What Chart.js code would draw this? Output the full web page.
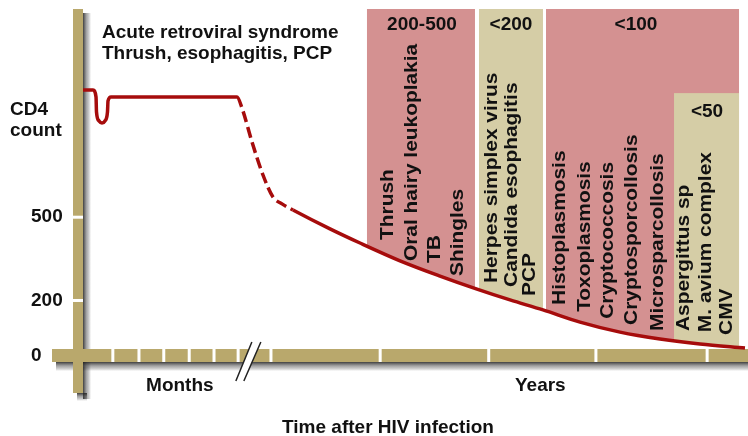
<!DOCTYPE html>
<html>
<head>
<meta charset="utf-8">
<script src="https://cdn.jsdelivr.net/npm/chart.js@4.4.1/dist/chart.umd.min.js"></script>
<style>
  html, body { margin: 0; padding: 0; background: #fff; }
  #wrap { width: 748px; height: 436px; }
</style>
</head>
<body>
<div id="wrap"><canvas id="cd4Chart" width="748" height="436"></canvas></div>
<script>
// CD4 curve: position along the time axis (0-100) and count
const timeline = [0.75, 2.24, 2.69, 2.76, 3.13, 3.58, 4.03, 4.40, 4.48, 4.93, 23.73,
  24.48, 25.97, 27.61, 29.10, 30.45, 32.09,
  37.61, 42.09, 48.06, 54.03, 59.55, 64.48, 69.40, 74.93, 80.90, 86.87, 92.84, 99.55];
const cd4Count = [958, 958, 933, 879, 847, 839, 847, 879, 919, 933, 933,
  893, 771, 652, 573, 548, 526,
  458, 407, 343, 288, 241, 202, 166, 122, 86, 61, 43, 29];
// part of the curve that is only projected (drawn dashed)
const projectedFrom = 23.73;
const projectedTo = 32.09;

// axis ticks
const yTickValues = [0, 200, 500];
const xTickValues = [15.2, 69.0];
const xTickLabels = ['Months', 'Years'];
const monthTicks = [5.2, 9.1, 12.8, 16.6, 20.3, 23.9, 28.8];
const yearTicks = [45.1, 61.3, 77.3, 93.9];
const axisBreakAt = 25.5;

// CD4 ranges and the infections seen in each
const bandLabels = ['200-500', '<200', '<100', '<50'];
const bandFrom = [43.13, 59.85, 69.85, 88.96];
const bandTo = [59.25, 69.40, 98.66, 98.66];
const bandTop = [1250, 1250, 1250, 947];
const bandLabelX = [51.34, 64.63, 83.28, 93.88];
const bandLabelY = [1192, 1192, 1192, 879];

const infections = ['Thrush', 'Oral hairy leukoplakia', 'TB', 'Shingles',
  'Herpes simplex virus', 'Candida esophagitis', 'PCP',
  'Histoplasmosis', 'Toxoplasmosis', 'Cryptococcosis', 'Cryptosporcollosis', 'Microsparcollosis',
  'Aspergittus sp', 'M. avium complex', 'CMV'];
const infectionX = [46.27, 49.85, 53.28, 56.72, 61.79, 64.78, 67.46,
  71.94, 75.67, 79.10, 82.69, 86.57, 90.45, 93.73, 96.87];
const infectionY = [418, 342, 335, 288, 263, 249, 216,
  184, 159, 134, 112, 90, 90, 86, 76];

const earlyNotes = ['Acute retroviral syndrome', 'Thrush, esophagitis, PCP'];

const PINK = '#d49191';
const TAN = '#d5cda6';
const AXIS_TAN = '#b9a86c';
const CURVE_RED = '#a60c0c';
const INK = '#111111';
const FONT = "bold 19px 'Liberation Sans', Arial, sans-serif";

// soft shadow strip fading away from an edge
function shadowStrip(ctx, x, y, w, h, vertical) {
  const g = vertical
    ? ctx.createLinearGradient(x, 0, x + w, 0)
    : ctx.createLinearGradient(0, y, 0, y + h);
  g.addColorStop(0, 'rgba(30,30,30,0.85)');
  g.addColorStop(0.45, 'rgba(60,60,60,0.45)');
  g.addColorStop(1, 'rgba(0,0,0,0)');
  ctx.fillStyle = g;
  ctx.fillRect(x, y, w, h);
}

const decorations = {
  id: 'decorations',
  beforeDatasetsDraw(chart) {
    const { ctx, chartArea, scales: { x, y } } = chart;
    const pts = chart.getDatasetMeta(0).data;

    // shaded ranges, only above the curve
    ctx.save();
    ctx.beginPath();
    ctx.moveTo(pts[0].x, pts[0].y);
    for (let i = 1; i < pts.length; i++) {
      const a = pts[i - 1], b = pts[i];
      ctx.bezierCurveTo(a.cp2x, a.cp2y, b.cp1x, b.cp1y, b.x, b.y);
    }
    ctx.lineTo(chartArea.right, pts[pts.length - 1].y);
    ctx.lineTo(chartArea.right, chartArea.top);
    ctx.lineTo(pts[0].x, chartArea.top);
    ctx.closePath();
    ctx.clip();
    bandLabels.forEach((_, i) => {
      const left = x.getPixelForValue(bandFrom[i]);
      const right = x.getPixelForValue(bandTo[i]);
      const top = y.getPixelForValue(bandTop[i]);
      ctx.fillStyle = i % 2 ? TAN : PINK;
      ctx.fillRect(left, top, right - left, chartArea.bottom - top);
    });
    ctx.restore();

    // axis bars with drop shadow
    const x0 = x.getPixelForValue(0);
    const y0 = y.getPixelForValue(0);
    const vBottom = chartArea.top + 384;
    ctx.save();
    shadowStrip(ctx, x0 + 5, chartArea.top + 4, 8, vBottom - chartArea.top + 2, true);
    shadowStrip(ctx, x0 - 1, vBottom, 10, 8, false);
    shadowStrip(ctx, 56, y0 + 6, chart.width - 56, 9, false);
    ctx.fillStyle = AXIS_TAN;
    ctx.fillRect(x0 - 5, chartArea.top, 10, vBottom - chartArea.top);
    ctx.fillRect(52, y0 - 7, chart.width - 52, 13);
    ctx.restore();

    // white tick notches
    ctx.fillStyle = '#fff';
    monthTicks.concat(yearTicks).forEach(v => {
      ctx.fillRect(x.getPixelForValue(v) - 1.5, y0 - 7, 3, 13);
    });
    yTickValues.filter(v => v > 0).forEach(v => {
      ctx.fillRect(x0 - 5, y.getPixelForValue(v) - 1.5, 10, 3);
    });

    // axis break
    const bx = x.getPixelForValue(axisBreakAt);
    ctx.save();
    ctx.beginPath();
    ctx.moveTo(bx - 13, y0 + 25);
    ctx.lineTo(bx + 3, y0 - 14);
    ctx.lineTo(bx + 12, y0 - 14);
    ctx.lineTo(bx - 5, y0 + 25);
    ctx.closePath();
    ctx.fillStyle = '#fff';
    ctx.fill();
    ctx.strokeStyle = '#222';
    ctx.lineWidth = 1.5;
    ctx.beginPath();
    ctx.moveTo(bx - 13, y0 + 25);
    ctx.lineTo(bx + 3, y0 - 14);
    ctx.moveTo(bx - 5, y0 + 25);
    ctx.lineTo(bx + 12, y0 - 14);
    ctx.stroke();
    ctx.restore();
  },
  afterDatasetsDraw(chart) {
    const { ctx, chartArea, scales: { x, y } } = chart;
    ctx.save();
    ctx.fillStyle = INK;
    ctx.font = FONT;

    // range headers
    ctx.textAlign = 'center';
    ctx.textBaseline = 'middle';
    bandLabels.forEach((label, i) => {
      ctx.fillText(label, x.getPixelForValue(bandLabelX[i]), y.getPixelForValue(bandLabelY[i]));
    });

    // infections, written upwards from just above the curve
    ctx.textAlign = 'left';
    infections.forEach((name, i) => {
      ctx.save();
      ctx.translate(x.getPixelForValue(infectionX[i]), y.getPixelForValue(infectionY[i]));
      ctx.rotate(-Math.PI / 2);
      ctx.scale(1.1, 1);
      ctx.fillText(name, 0, 0);
      ctx.restore();
    });

    // early infection notes, axis titles
    ctx.textBaseline = 'alphabetic';
    earlyNotes.forEach((line, i) => {
      ctx.fillText(line, chartArea.left + 24, chartArea.top + 29 + i * 21);
    });
    ctx.fillText('CD4', 10, 115);
    ctx.fillText('count', 10, 136);
    ctx.textAlign = 'center';
    ctx.fillText('Time after HIV infection', 388, 433);
    ctx.restore();
  }
};

new Chart(document.getElementById('cd4Chart'), {
  type: 'line',
  data: {
    labels: timeline,
    datasets: [{
      data: timeline.map((t, i) => ({ x: t, y: cd4Count[i] })),
      borderColor: CURVE_RED,
      borderWidth: 3.5,
      pointRadius: 0,
      cubicInterpolationMode: 'monotone',
      fill: false,
      segment: {
        borderDash: c => (c.p0.parsed.x >= projectedFrom && c.p1.parsed.x <= projectedTo) ? [11, 5] : undefined
      }
    }]
  },
  options: {
    responsive: false,
    devicePixelRatio: 1,
    animation: false,
    layout: { padding: { left: 31, top: 9, right: 0, bottom: 0 } },
    plugins: { legend: { display: false }, tooltip: { enabled: false } },
    scales: {
      x: {
        type: 'linear',
        min: 0,
        max: 100,
        grid: { display: false, drawTicks: false },
        border: { display: false },
        afterBuildTicks: s => { s.ticks = xTickValues.map(v => ({ value: v })); },
        afterFit: s => { s.height = 80; s.paddingLeft = 0; s.paddingRight = 0; },
        ticks: {
          autoSkip: false,
          maxRotation: 0,
          padding: 18,
          color: INK,
          font: { family: "'Liberation Sans', Arial, sans-serif", size: 19, weight: 'bold' },
          callback: (v, i) => xTickLabels[i]
        }
      },
      y: {
        min: 0,
        max: 1250,
        grid: { display: false, drawTicks: false },
        border: { display: false },
        afterBuildTicks: s => { s.ticks = yTickValues.map(v => ({ value: v })); },
        afterFit: s => { s.width = 47; s.paddingTop = 0; s.paddingBottom = 0; },
        ticks: {
          crossAlign: 'far',
          color: INK,
          font: { family: "'Liberation Sans', Arial, sans-serif", size: 19, weight: 'bold' },
          callback: v => String(v)
        }
      }
    }
  },
  plugins: [decorations]
});
</script>
</body>
</html>
